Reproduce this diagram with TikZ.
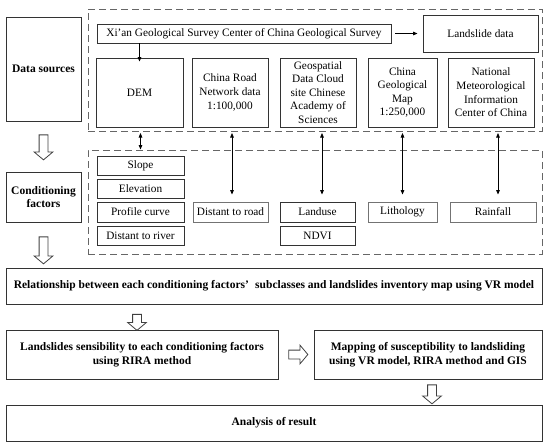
\documentclass[tikz,border=0pt]{standalone}
\usepackage{fontspec}
\setmainfont{Liberation Serif}
\usetikzlibrary{arrows.meta,shapes.arrows,calc}
\begin{document}
\begin{tikzpicture}[x=1pt,y=-1pt,
  every node/.style={font=\fontsize{11.3}{13.6}\selectfont},
  box/.style={draw=black!80,line width=0.9pt,rectangle,inner sep=1pt,align=center},
  lbox/.style={box,draw=black!55},
  bfnt/.style={font=\fontsize{11.5}{13.8}\selectfont\bfseries},
  dbox/.style={draw=black!60,line width=1pt,dash pattern=on 7pt off 4pt,rectangle,inner sep=0pt},
  arr/.style={line width=0.8pt,-{Triangle[length=4.5pt,width=3.6pt]}},
  darr/.style={line width=0.8pt,{Triangle[length=4.5pt,width=3.6pt]}-{Triangle[length=4.5pt,width=3.6pt]}},
  hol/.style={single arrow,draw=black!75,line width=0.8pt,inner sep=4pt,
    single arrow head extend=5pt,single arrow tip angle=100,minimum width=18pt}
]
\useasboundingbox (0,0) rectangle (550,448);
% dashed groups
\node[dbox,minimum width=454pt,minimum height=122pt] (srcbox) at (315,70) {};
\node[dbox,minimum width=454pt,minimum height=104pt] (cfbox) at (315,202) {};
% left labels
\node[box,bfnt,minimum width=75pt,minimum height=104pt] (ds) at (43.5,69) {Data sources};
\node[box,bfnt,minimum width=75pt,minimum height=50pt] (cf) at (43.5,197) {Conditioning\\factors};
% data sources
\node[box,minimum width=294pt,minimum height=19pt] (xian) at (244,33.5) {Xi\char"27 an Geological Survey Center of China Geological Survey};
\node[box,minimum width=115pt,minimum height=37pt] (lsd) at (480.5,33.5) {Landslide data};
\node[box,minimum width=87pt,minimum height=69pt] (dem) at (139.5,92.5) {DEM};
\node[box,minimum width=76pt,minimum height=69pt] (road) at (230,92.5) {China Road\\Network data\\1:100,000};
\node[box,minimum width=76pt,minimum height=69pt,inner sep=0pt] (geo) at (318,92.5) {Geospatial\\Data Cloud\\site Chinese\\Academy of\\Sciences};
\node[box,minimum width=69pt,minimum height=69pt,inner sep=0pt] (gmap) at (402.5,92.5) {China\\Geological\\Map\\1:250,000};
\node[box,minimum width=86pt,minimum height=69pt,inner sep=0pt] (met) at (491,92.5) {National\\Meteorological\\Information\\Center of China};
% conditioning factors
\node[box,minimum width=87pt,minimum height=19pt] (slope) at (140.5,165.5) {Slope};
\node[box,minimum width=87pt,minimum height=19pt] (elev) at (140.5,188.5) {Elevation};
\node[box,minimum width=87pt,minimum height=20pt] (prof) at (140.5,212) {Profile curve};
\node[box,minimum width=87pt,minimum height=19pt] (river) at (140.5,235.5) {Distant to river};
\node[lbox,minimum width=75pt,minimum height=20pt] (droad) at (230.5,212) {Distant to road};
\node[box,minimum width=75pt,minimum height=20pt] (landuse) at (317.5,212) {Landuse};
\node[box,minimum width=75pt,minimum height=19pt] (ndvi) at (317.5,235.5) {NDVI};
\node[lbox,minimum width=69pt,minimum height=20pt] (lith) at (402.5,212) {Lithology};
\node[lbox,minimum width=86pt,minimum height=20pt] (rain) at (493,212) {Rainfall};
% analysis
\node[box,bfnt,minimum width=536pt,minimum height=36pt] (rel) at (274,286) {Relationship between each conditioning factors’\hspace{0.55em}subclasses and landslides inventory map using VR model};
\node[box,bfnt,minimum width=272pt,minimum height=49pt] (sens) at (142,354.5) {Landslides sensibility to each conditioning factors\\using RIRA method};
\node[box,bfnt,minimum width=228pt,minimum height=49pt] (mapp) at (428,354.5) {Mapping of susceptibility to landsliding\\using VR model, RIRA method and GIS};
\node[box,bfnt,minimum width=536pt,minimum height=36pt] (ana) at (274,423) {Analysis of result};
% connectors
\draw[arr] (dem.north |- xian.south) -- ([yshift=-4pt]dem.north);
\draw[arr] ([xshift=4pt]xian.east) -- ([xshift=-5pt]lsd.west);
\draw[darr,shorten <=1.5pt] (srcbox.south -| slope.north) -- (cfbox.north -| slope.north);
\draw[darr,shorten <=1.5pt,shorten >=7pt] ([xshift=1.5pt]srcbox.south -| droad.north) -- ([xshift=1.5pt]droad.north);
\draw[darr,shorten <=1.5pt,shorten >=7pt] ([xshift=4.5pt]srcbox.south -| landuse.north) -- ([xshift=4.5pt]landuse.north);
\draw[darr,shorten <=1.5pt,shorten >=7pt] (srcbox.south -| lith.north) -- (lith.north);
\draw[darr,shorten <=1.5pt,shorten >=7pt] ([xshift=5pt]srcbox.south -| rain.north) -- ([xshift=5pt]rain.north);
% hollow arrows
\node[hol,rotate=-90,minimum height=25pt] (h1) at (43.5,145.5) {};
\node[hol,rotate=-90,minimum height=27pt] (h2) at (43.5,248.5) {};
\node[hol,rotate=-90,minimum height=16pt] (h3) at (137,320.5) {};
\node[hol,minimum height=19pt] (h4) at (296.5,354.5) {};
\node[hol,rotate=-90,minimum height=19pt] (h5) at (432,392.5) {};
\end{tikzpicture}
\end{document}
